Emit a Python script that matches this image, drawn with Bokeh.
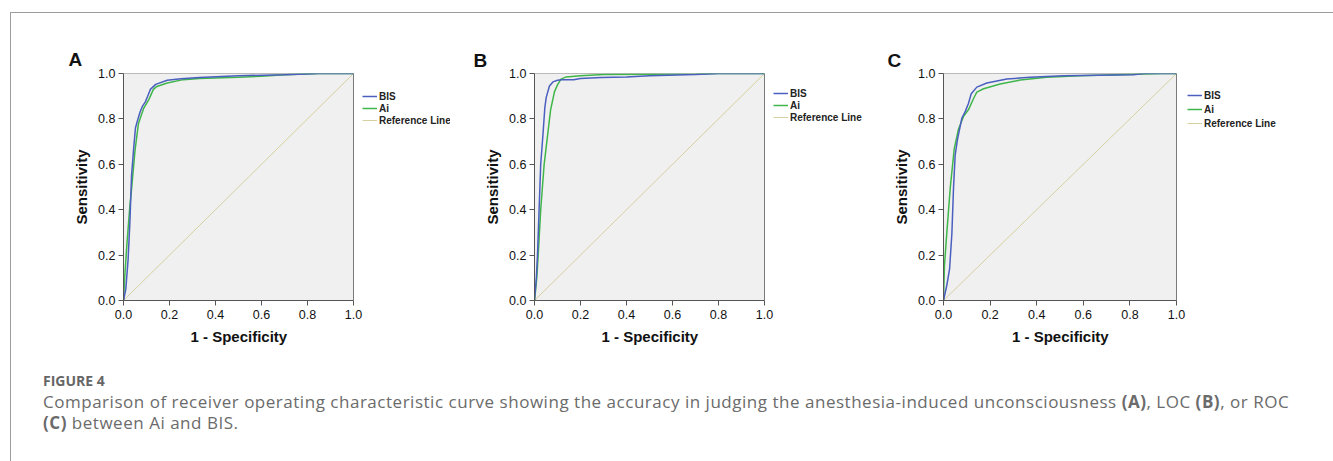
from bokeh.plotting import figure
from bokeh.models import Range1d, Legend, LegendItem, Title, PrintfTickFormatter, Div, FixedTicker
from bokeh.layouts import row, column
from bokeh.embed import file_html
from bokeh.resources import INLINE

# ---------------- data ----------------
ticks = [0.0, 0.2, 0.4, 0.6, 0.8, 1.0]
panel_labels = ["A", "B", "C"]
series_names = ["BIS", "Ai", "Reference Line"]
x_label = "1 - Specificity"
y_label = "Sensitivity"

# Panel A : unconsciousness
a_bis_fpr = [0, 0.01, 0.02, 0.028, 0.035, 0.045, 0.052, 0.06, 0.072, 0.082, 0.095, 0.105, 0.117, 0.14, 0.19, 0.25, 0.33, 0.5, 0.7, 0.85, 1.0]
a_bis_tpr = [0, 0.05, 0.18, 0.35, 0.55, 0.68, 0.76, 0.79, 0.83, 0.855, 0.875, 0.9, 0.93, 0.952, 0.97, 0.977, 0.982, 0.99, 0.995, 1.0, 1.0]
a_ai_fpr = [0, 0.005, 0.015, 0.028, 0.036, 0.05, 0.065, 0.087, 0.11, 0.13, 0.145, 0.19, 0.26, 0.33, 0.5, 0.6, 0.7, 0.85, 1.0]
a_ai_tpr = [0, 0.1, 0.25, 0.42, 0.5, 0.66, 0.78, 0.845, 0.885, 0.93, 0.943, 0.958, 0.973, 0.978, 0.984, 0.988, 0.995, 1.0, 1.0]

# Panel B : LOC
b_bis_fpr = [0, 0.008, 0.013, 0.02, 0.027, 0.036, 0.045, 0.051, 0.065, 0.08, 0.1, 0.12, 0.17, 0.2, 0.29, 0.4, 0.5, 0.7, 0.8, 1.0]
b_bis_tpr = [0, 0.1, 0.2, 0.4, 0.6, 0.72, 0.85, 0.895, 0.945, 0.963, 0.97, 0.972, 0.972, 0.978, 0.982, 0.985, 0.99, 0.996, 1.0, 1.0]
b_ai_fpr = [0, 0.01, 0.016, 0.027, 0.042, 0.056, 0.07, 0.087, 0.1, 0.115, 0.138, 0.2, 0.3, 0.5, 0.7, 0.8, 1.0]
b_ai_tpr = [0, 0.1, 0.2, 0.4, 0.6, 0.72, 0.84, 0.92, 0.95, 0.975, 0.985, 0.99, 0.996, 0.997, 0.998, 1.0, 1.0]

# Panel C : ROC
c_bis_fpr = [0, 0.014, 0.026, 0.036, 0.043, 0.05, 0.06, 0.079, 0.093, 0.107, 0.119, 0.143, 0.186, 0.272, 0.372, 0.515, 0.815, 0.86, 1.0]
c_bis_tpr = [0, 0.066, 0.138, 0.295, 0.496, 0.64, 0.71, 0.804, 0.832, 0.868, 0.911, 0.94, 0.958, 0.976, 0.983, 0.99, 0.994, 1.0, 1.0]
c_ai_fpr = [0, 0.004, 0.014, 0.029, 0.046, 0.064, 0.086, 0.107, 0.129, 0.143, 0.172, 0.243, 0.329, 0.443, 0.586, 0.815, 0.94, 1.0]
c_ai_tpr = [0, 0.152, 0.295, 0.496, 0.668, 0.754, 0.811, 0.84, 0.89, 0.918, 0.933, 0.954, 0.971, 0.983, 0.99, 0.997, 1.0, 1.0]

ref_x = [0.0, 1.0]
ref_y = [0.0, 1.0]

caption_head = "FIGURE 4"
caption_text = ("Comparison of receiver operating characteristic curve showing the accuracy in judging the "
                "anesthesia-induced unconsciousness <b>(A)</b>, LOC <b>(B)</b>, or ROC<br><b>(C)</b> between Ai and BIS.")

# ---------------- styling ----------------
BLUE = "#4a5fbf"
GREEN = "#3fb54a"
TAN = "#d6d0a0"
FONT = "Liberation Sans"
XLABEL_HALF_W = 48  # half width (px) of the bold 15px x-axis label


def make_panel(label, bis_x, bis_y, ai_x, ai_y, width, height, bl, br, bt, bb, unit_px,
               title_offset, title_standoff, leg_x, leg_y, leg_spacing):
    # the frame is wider than the square plot box so that the legend can sit to its right
    frame_w = width - bl - br
    x_max = frame_w / unit_px
    p = figure(width=width, height=height, output_backend="svg", toolbar_location=None,
               x_range=Range1d(0, x_max), y_range=Range1d(0, 1),
               min_border_left=bl, min_border_right=br, min_border_top=bt, min_border_bottom=bb)
    p.background_fill_color = "white"
    p.border_fill_color = "white"
    p.outline_line_color = None
    p.grid.visible = False

    # plot box: grey background with grey outline, spanning [0,1] x [0,1]
    p.quad(left=[0], right=[1], bottom=[0], top=[1], fill_color="#f0f0f0",
           line_color="#7a7a7a", line_width=1)

    r_ref = p.line(ref_x, ref_y, line_color=TAN, line_width=1)
    r_ai = p.line(ai_x, ai_y, line_color=GREEN, line_width=1.5)
    r_bis = p.line(bis_x, bis_y, line_color=BLUE, line_width=1.5)

    for ax in (p.xaxis[0], p.yaxis[0]):
        ax.ticker = FixedTicker(ticks=ticks)
        ax.formatter = PrintfTickFormatter(format="%.1f")
        ax.bounds = (0, 1)
        ax.axis_line_color = "#555555"
        ax.major_tick_line_color = "#555555"
        ax.major_tick_out = 5
        ax.major_tick_in = 0
        ax.minor_tick_line_color = None
        ax.major_label_text_font = FONT
        ax.major_label_text_font_size = "12.5px"
        ax.major_label_text_color = "#111111"
        ax.axis_label_text_font = FONT
        ax.axis_label_text_font_size = "15px"
        ax.axis_label_text_font_style = "bold"
        ax.axis_label_text_color = "#111111"
    p.yaxis.axis_label = y_label
    p.xaxis.major_label_standoff = 4
    p.yaxis.major_label_standoff = 3
    p.yaxis.axis_label_standoff = 5

    # x-axis label centred under the square box (not under the wider frame)
    xl = Title(text=x_label, align="left", offset=unit_px / 2 - XLABEL_HALF_W, standoff=9,
               text_font=FONT, text_font_size="15px", text_font_style="bold", text_color="#111111")
    p.add_layout(xl, "below")

    t = Title(text=label, align="left", offset=title_offset, standoff=title_standoff,
              text_font=FONT, text_font_size="19px", text_font_style="bold", text_color="#111111")
    p.add_layout(t, "above")

    legend = Legend(items=[LegendItem(label=series_names[0], renderers=[r_bis]),
                           LegendItem(label=series_names[1], renderers=[r_ai]),
                           LegendItem(label=series_names[2], renderers=[r_ref])],
                    location=(leg_x, leg_y))
    legend.border_line_color = None
    legend.background_fill_alpha = 0
    legend.label_text_font = FONT
    legend.label_text_font_size = "10px"
    legend.label_text_font_style = "bold"
    legend.label_text_color = "#222222"
    legend.glyph_width = 15
    legend.glyph_height = 12
    legend.label_height = 12
    legend.label_standoff = 2
    legend.spacing = leg_spacing
    legend.padding = 0
    legend.margin = 0
    p.add_layout(legend)
    return p


pa = make_panel(panel_labels[0], a_bis_fpr, a_bis_tpr, a_ai_fpr, a_ai_tpr,
                449, 342, 112, 10, 60, 52, 230, -55, 7, 239, 174, 0)
pb = make_panel(panel_labels[1], b_bis_fpr, b_bis_tpr, b_ai_fpr, b_ai_tpr,
                420, 342, 74, 10, 56, 55, 230, -61, 5, 239, 177, 0)
pc = make_panel(panel_labels[2], c_bis_fpr, c_bis_tpr, c_ai_fpr, c_ai_tpr,
                450, 342, 63, 10, 56, 53, 233, -56, 5, 244, 171, 2)

caption = Div(text=(
    "<div style=\"font-family:'Open Sans'; color:#6b6b6b;\">"
    "<div style='font-size:14px; font-weight:700; color:#666; margin-bottom:0px'>" + caption_head + "</div>"
    "<div style='font-size:17px; line-height:21px; letter-spacing:0.52px'>" + caption_text + "</div></div>"),
    width=1295, height=94, margin=(16, 0, 0, 32))

layout = column(row(pa, pb, pc), caption, margin=(12, 0, 0, 10),
                styles={"border-top": "1px solid #9c9c9c", "border-left": "1px solid #9c9c9c",
                        "border-right": "1px solid #9c9c9c"})

html = file_html(layout, INLINE)
html = html.replace("<body>", "<body style='margin:0; overflow:hidden'>")
open("out.html", "w").write(html)
